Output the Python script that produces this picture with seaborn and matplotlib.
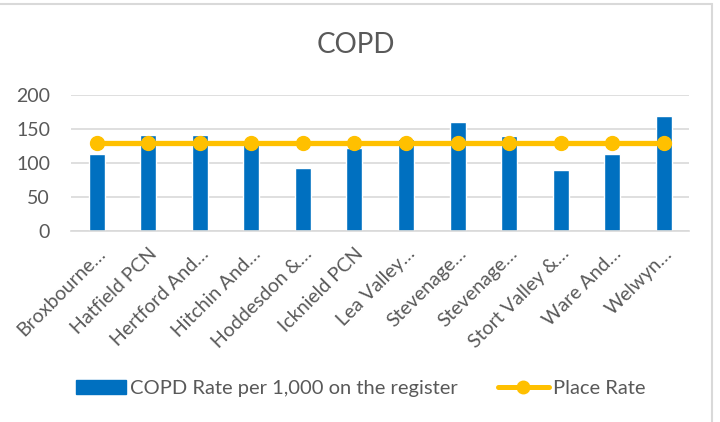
import numpy as np
import pandas as pd
import matplotlib
matplotlib.use("Agg")
import matplotlib.pyplot as plt
import seaborn as sns
from matplotlib.patches import Patch
from matplotlib.lines import Line2D

# Data
pcn_labels = ["Broxbourne…", "Hatfield PCN", "Hertford And…", "Hitchin And…",
              "Hoddesdon &…", "Icknield PCN", "Lea Valley…", "Stevenage…",
              "Stevenage…", "Stort Valley &…", "Ware And…", "Welwyn…"]
copd_rate = [113, 141, 141, 132, 92, 122, 136, 161, 140, 89, 113, 169]
place_rate = [130] * 12

BLUE = "#0070C0"
GOLD = "#FFC000"
TEXT = "#595959"
GRID = "#D9D9D9"

sns.set_theme(style="white")
plt.rcParams['font.family'] = ['Lato', 'DejaVu Sans']

df = pd.DataFrame({"idx": range(len(pcn_labels)), "rate": copd_rate,
                   "place": place_rate})

fig = plt.figure(figsize=(7.2, 4.22), dpi=100)
ax = fig.add_axes([0.0986, 0.4526, 0.859, 0.3223])

# bars + flat place-rate line
sns.barplot(data=df, x="idx", y="rate", color=BLUE, width=0.31,
            saturation=1, ax=ax, zorder=2)
ax.plot(df["idx"], df["place"], color=GOLD, lw=3.8, marker="o",
        markersize=10, zorder=3)

ax.set_ylim(0, 200)
ax.set_yticks([0, 50, 100, 150, 200])
ax.set_xlim(-0.5, len(pcn_labels) - 0.5)
ax.yaxis.grid(True, color=GRID, lw=1.2, zorder=0)
ax.set_axisbelow(True)
for s in ["top", "right", "left"]:
    ax.spines[s].set_visible(False)
ax.spines["bottom"].set_color(GRID)
ax.spines["bottom"].set_linewidth(1.2)

ax.set_xticks(range(len(pcn_labels)))
ax.set_xticklabels(pcn_labels, rotation=45, ha="right", rotation_mode="anchor",
                   fontsize=14, color=TEXT)
ax.tick_params(axis="y", labelsize=14, colors=TEXT, length=0, pad=15)
ax.tick_params(axis="x", length=0, pad=10)
ax.set_xlabel("")
ax.set_ylabel("")

fig.text(0.494, 0.893, "COPD", ha="center", va="center", fontsize=20,
         color=TEXT)

handles = [Patch(facecolor=BLUE, edgecolor=BLUE),
           Line2D([0], [0], color=GOLD, lw=3.6, marker="o", markersize=9)]
fig.legend(handles, ["COPD Rate per 1,000 on the register", "Place Rate"],
           loc="center", bbox_to_anchor=(0.5007, 0.0794), ncol=2, frameon=False,
           fontsize=14.5, labelcolor=TEXT, handlelength=2.5, handleheight=0.65,
           handletextpad=0.2, columnspacing=2.0)

# chart frame: only top and right edges are visible in the reference
fig.add_artist(Line2D([0, 0.989], [0.9905, 0.9905], transform=fig.transFigure,
                      color=GRID, lw=1.5))
fig.add_artist(Line2D([0.989, 0.989], [0, 0.9905], transform=fig.transFigure,
                      color=GRID, lw=1.5))

fig.savefig("out.png", dpi=100)
